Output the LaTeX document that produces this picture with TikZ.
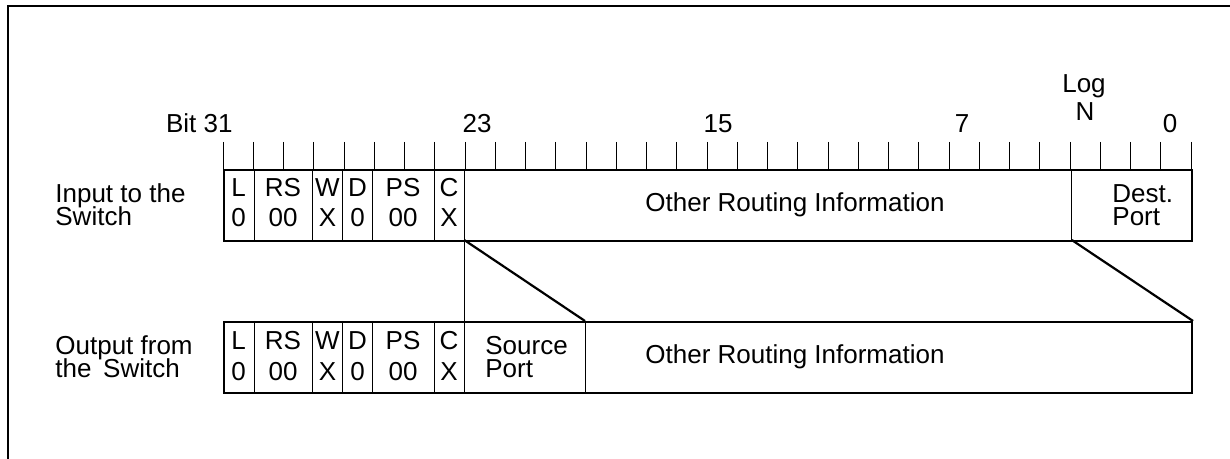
\documentclass[tikz,border=0pt]{standalone}
\usepackage{fontspec}
\setmainfont{Liberation Sans}
\begin{document}
\begin{tikzpicture}[x=0.5pt,y=-0.5pt,
  txt/.style={inner sep=0pt, font=\fontsize{13}{15}\selectfont},
  frameline/.style={line width=1pt},
  boxline/.style={line width=1pt},
  thinline/.style={line width=0.5pt},
  link/.style={line width=1.1pt},
  wordbox/.style={draw, boxline, inner sep=0pt, anchor=north west,
    minimum width=484pt, minimum height=35.5pt}]
\useasboundingbox (0,0) rectangle (1230,459);

% frame (open on the right and bottom)
\draw[frameline] (7.5,459) -- (7.5,6.5) -- (1230,6.5);

% bit ticks above the input word
\foreach \k in {0,...,32}
  \draw[thinline] (223+30.25*\k,142) -- (223+30.25*\k,169);

% bit numbers
\node[txt, anchor=base east] (b31) at (233,133) {Bit 31};
\node[txt, anchor=base] (b23) at (477,133) {23};
\node[txt, anchor=base] (b15) at (718,133) {15};
\node[txt, anchor=base] (b7) at (962,133) {7};
\node[txt, anchor=base] (b0) at (1170,133) {0};
\node[txt, anchor=base] (logA) at (1084,93) {Log};
\node[txt, anchor=base] (logB) at (1085,121) {N};

% the two words
\node[wordbox] (inw) at (223,169) {};
\node[wordbox] (outw) at (223,321) {};

% field dividers (shared header fields)
\foreach \x in {254,312,342.5,372.75,434,464.25} {
  \draw[thinline] (\x,169) -- (\x,240);
  \draw[thinline] (\x,321) -- (\x,392);
}
\draw[thinline] (1071.75,169) -- (1071.75,240);
\draw[thinline] (585,321) -- (585,392);

% header field contents
\foreach \x/\a/\b [count=\i] in {238.5/L/0, 283/RS/00, 327.5/W/X,
    357.5/D/0, 403/PS/00, 449/C/X} {
  \node[txt, anchor=base] (inA\i) at (\x,196.7) {\a};
  \node[txt, anchor=base] (inB\i) at (\x,227) {\b};
  \node[txt, anchor=base] (outA\i) at (\x,349.3) {\a};
  \node[txt, anchor=base] (outB\i) at (\x,380) {\b};
}

% remaining fields
\node[txt, anchor=base west] (inOther) at (645,212) {Other Routing Information};
\node[txt, anchor=base west] (dest1) at (1112,202.5) {Dest.};
\node[txt, anchor=base west] (dest2) at (1112,226) {Port};
\node[txt, anchor=base west] (src1) at (485,354.5) {Source};
\node[txt, anchor=base west] (src2) at (485,378) {Port};
\node[txt, anchor=base west] (outOther) at (645,364) {Other Routing Information};

% row captions
\node[txt, anchor=base west] (cin1) at (55,202.5) {Input to the};
\node[txt, anchor=base west] (cin2) at (55,226) {Switch};
\node[txt, anchor=base west] (cout1) at (55,354.5) {Output from};
\node[txt, anchor=base west] (cout2) at (55,378) {the\hspace{0.45em}Switch};

% mapping between the words
\coordinate (inC) at (464.25,240);
\coordinate (inD) at (1071.75,240);
\coordinate (outC) at (464.25,321);
\coordinate (outS) at (585,321);
\draw[thinline] (inC) -- (outC);
\draw[link] (inC) -- (outS);
\draw[link] (inD) -- (outw.north east);
\end{tikzpicture}
\end{document}
